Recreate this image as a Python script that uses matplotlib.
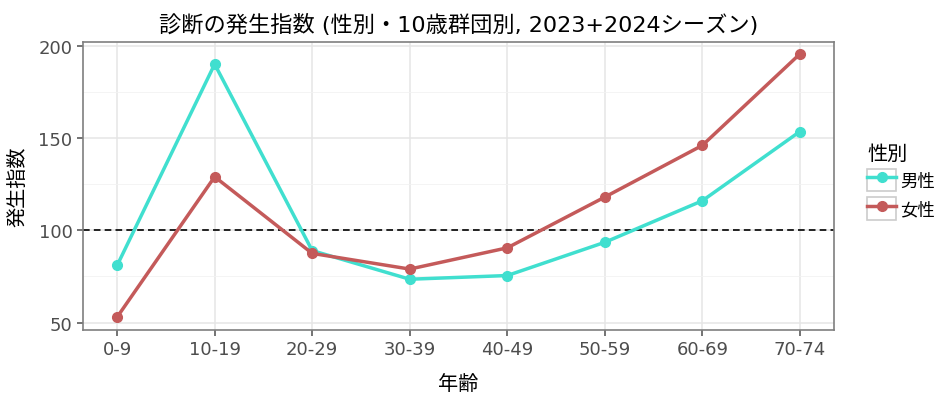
import matplotlib
matplotlib.use("Agg")
import matplotlib.pyplot as plt
from matplotlib.legend_handler import HandlerLine2D
from matplotlib.patches import Rectangle

# Latin from a Verdana-like face, CJK from Noto
plt.rcParams['font.family'] = ['DejaVu Sans', 'Noto Sans CJK JP']

age_groups = ["0-9", "10-19", "20-29", "30-39", "40-49", "50-59", "60-69", "70-74"]
male = [81, 190, 89, 73.5, 75.5, 93.5, 116, 153.5]
female = [53, 129, 87.5, 79, 90.5, 118, 146, 195.5]
series_labels = ["男性", "女性"]
yticks = [50, 100, 150, 200]
yminor = [75, 125, 175]

male_color = "#40DFCF"
female_color = "#C45A5A"
tick_color = "#4D4D4D"


class BoxedLineHandler(HandlerLine2D):
    # ggplot-style legend key: grey framed box behind the line + point
    def create_artists(self, legend, orig_handle, xdescent, ydescent,
                       width, height, fontsize, trans):
        artists = super().create_artists(legend, orig_handle, xdescent, ydescent,
                                         width, height, fontsize, trans)
        box = Rectangle((-xdescent, -ydescent), width, height,
                        facecolor="white", edgecolor="#CCCCCC", linewidth=1.2,
                        transform=trans, zorder=0)
        return [box] + artists


fig = plt.figure(figsize=(9.4, 4.02), dpi=100)
ax = fig.add_axes([83 / 940, 1 - 331 / 402, (834 - 83) / 940, (331 - 43) / 402])

x = list(range(len(age_groups)))
ax.plot(x, male, color=male_color, linewidth=2.5, marker="o", markersize=7,
        label=series_labels[0], zorder=3)
ax.plot(x, female, color=female_color, linewidth=2.5, marker="o", markersize=7,
        label=series_labels[1], zorder=3)
ax.axhline(100, color="black", linestyle=(0, (4, 2.5)), linewidth=1.2, zorder=2)

ax.set_xlim(-0.35, len(age_groups) - 1 + 0.35)
ax.set_ylim(46, 202)
ax.set_xticks(x)
ax.set_xticklabels(age_groups)
ax.set_yticks(yticks)
ax.set_yticks(yminor, minor=True)

ax.grid(True, which="major", color="#E5E5E5", linewidth=1.1, zorder=0)
ax.grid(True, which="minor", axis="y", color="#F2F2F2", linewidth=0.6, zorder=0)
ax.set_axisbelow(True)

for s in ax.spines.values():
    s.set_color("#7F7F7F")
    s.set_linewidth(1.2)

ax.tick_params(axis="both", which="major", labelsize=13, colors=tick_color,
               length=4, width=1.1, labelcolor=tick_color)
ax.tick_params(axis="y", which="minor", length=0)

ax.set_title("診断の発生指数 (性別・10歳群団別, 2023+2024シーズン)",
             fontsize=16, pad=8, color="black")
ax.set_xlabel("年齢", fontsize=14.5, labelpad=11)
ax.set_ylabel("発生指数", fontsize=14.5, labelpad=8)

leg = ax.legend(title="性別", loc="upper left", bbox_to_anchor=(1.035, 0.67),
                frameon=False, fontsize=12.5, title_fontsize=14.5,
                handlelength=1.65, handleheight=1.6, handletextpad=0.25,
                labelspacing=0.35, borderaxespad=0, alignment="left",
                handler_map={plt.Line2D: BoxedLineHandler()})

fig.savefig("out.png", dpi=100)
